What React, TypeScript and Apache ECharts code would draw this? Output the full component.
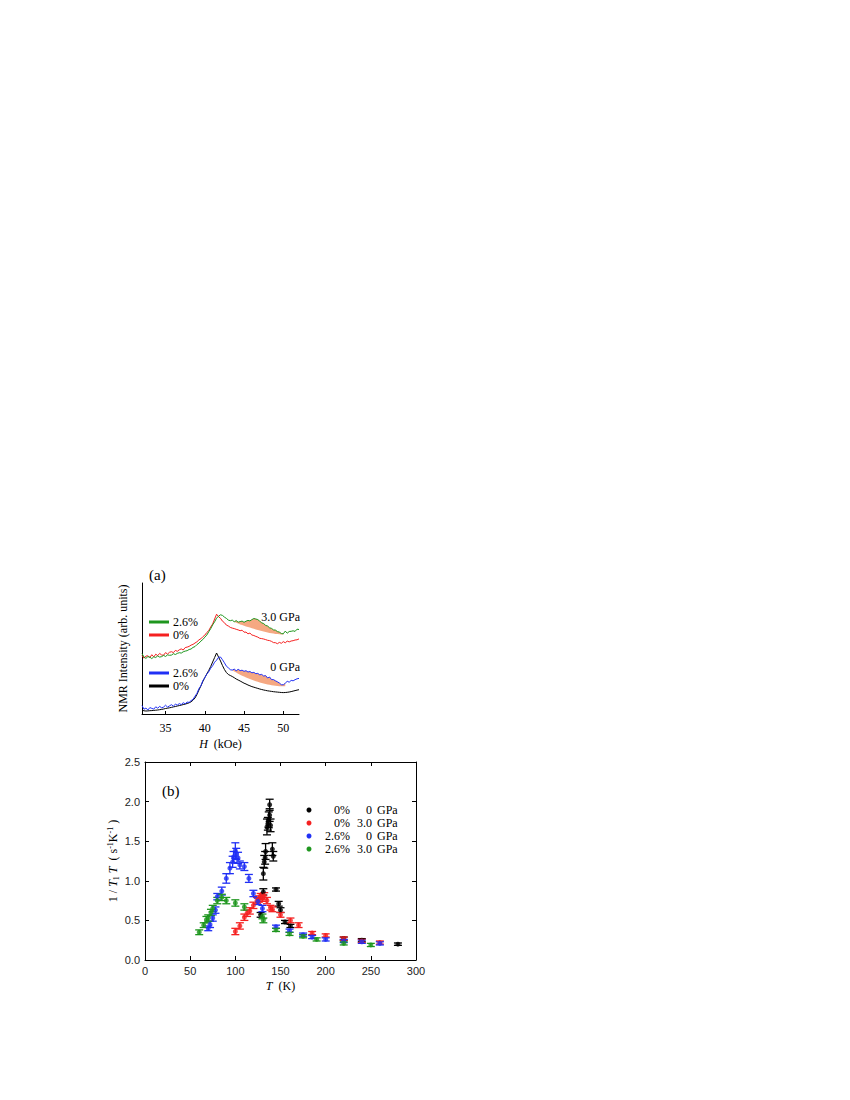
import React, { useEffect, useRef } from "react";
import * as echarts from "echarts";

// ---------- Panel (a): NMR spectra ----------
const H = [
  32, 32.25, 32.5, 32.75, 33, 33.25, 33.5, 33.75, 34, 34.25, 34.5, 34.75,
  35, 35.25, 35.5, 35.75, 36, 36.25, 36.5, 36.75, 37, 37.25, 37.5, 37.75,
  38, 38.25, 38.5, 38.75, 39, 39.25, 39.5, 39.75, 40, 40.25, 40.5, 40.75,
  41, 41.25, 41.5, 41.75, 42, 42.25, 42.5, 42.75, 43, 43.25, 43.5, 43.75,
  44, 44.25, 44.5, 44.75, 45, 45.25, 45.5, 45.75, 46, 46.25, 46.5, 46.75,
  47, 47.25, 47.5, 47.75, 48, 48.25, 48.5, 48.75, 49, 49.25, 49.5, 49.75,
  50, 50.25, 50.5, 50.75, 51, 51.25, 51.5, 51.75, 52,
];

const black0GPa = [
  4.0, 3.2, 3.0, 3.1, 3.3, 3.4, 3.6, 3.8, 4.0, 4.3, 4.6, 5.0,
  5.5, 5.8, 6.2, 6.6, 7.1, 7.5, 8.0, 8.4, 8.9, 9.4, 9.9, 10.5,
  11.2, 12.2, 13.8, 16.0, 19.5, 24.0, 28.0, 32.5, 36.5, 40.0, 43.5, 47.5,
  52.0, 56.5, 61.0, 57.0, 53.0, 48.5, 44.5, 41.5, 39.5, 38.5, 37.5, 36.3,
  35.0, 34.0, 33.0, 31.9, 30.8, 30.0, 29.0, 28.2, 27.4, 26.8, 26.2, 25.6,
  25.0, 24.5, 24.0, 23.6, 23.2, 22.9, 22.6, 22.3, 22.1, 21.9, 21.7, 21.5,
  21.4, 21.5, 21.7, 22.0, 22.4, 22.9, 23.4, 23.9, 24.3,
];

const blue0GPa = [
  8.5, 4.8, 5.9, 4.0, 6.4, 5.6, 4.9, 7.2, 5.8, 7.6, 6.2, 6.9,
  8.8, 6.9, 8.1, 9.3, 7.9, 9.8, 8.9, 10.4, 9.4, 11.3, 10.2, 11.9,
  11.6, 13.4, 14.6, 17.8, 20.6, 25.3, 28.2, 33.3, 36.2, 39.8, 42.3, 45.7,
  48.3, 51.8, 53.8, 56.7, 57.0, 54.3, 51.2, 47.8, 46.2, 44.3, 43.9, 44.9,
  43.2, 44.7, 43.4, 43.8, 42.7, 43.3, 42.0, 42.5, 41.2, 41.6, 40.3, 40.6,
  39.2, 39.6, 38.0, 38.4, 36.0, 37.0, 34.4, 34.4, 33.2, 32.2, 31.0, 29.3,
  29.2, 30.8, 32.7, 31.8, 33.6, 33.2, 34.3, 35.2, 35.6,
];

const red3GPa = [
  58.5, 55.8, 57.9, 58.2, 56.4, 59.3, 57.1, 59.8, 58.4, 60.6, 59.0, 58.8,
  61.4, 59.9, 61.7, 62.3, 61.4, 63.6, 62.7, 64.2, 65.1, 64.0, 66.4, 66.9,
  67.6, 68.9, 69.6, 71.0, 72.2, 74.1, 75.2, 77.3, 78.8, 81.5, 83.4, 87.0,
  90.0, 95.0, 99.8, 97.3, 95.7, 92.8, 91.3, 88.9, 88.0, 86.6, 85.9, 85.4,
  84.7, 84.1, 83.3, 83.8, 81.8, 81.9, 80.2, 80.9, 79.0, 78.5, 77.6, 76.9,
  75.7, 75.4, 75.0, 74.4, 73.7, 73.4, 72.6, 71.4, 71.3, 70.3, 71.6, 70.7,
  72.4, 71.2, 72.9, 72.1, 73.0, 73.3, 74.0, 74.2, 75.1,
];

const green3GPa = [
  60.5, 57.0, 55.6, 57.4, 56.8, 55.4, 57.2, 56.5, 58.1, 56.9, 57.4, 58.6,
  57.5, 59.1, 58.7, 58.9, 60.3, 59.5, 60.6, 61.3, 60.9, 62.2, 62.9, 63.3,
  64.5, 65.0, 66.6, 67.4, 69.4, 70.8, 72.9, 74.5, 76.8, 78.9, 82.2, 85.3,
  89.1, 92.2, 95.8, 97.8, 99.2, 98.6, 96.9, 95.6, 93.9, 93.3, 93.9, 92.2,
  93.4, 91.8, 92.4, 92.9, 91.7, 92.8, 93.6, 93.1, 94.4, 95.5, 95.0, 94.4,
  92.8, 91.2, 90.4, 88.6, 88.0, 86.2, 85.6, 84.1, 83.9, 82.4, 81.9, 80.5,
  80.2, 82.9, 80.8, 82.5, 82.7, 83.2, 82.6, 84.8, 84.5,
];

// Shaded regions (lower smooth boundary; upper = 2.6% spectrum)
const fill3H = [43.75, 44, 44.25, 44.5, 44.75, 45, 45.25, 45.5, 45.75, 46, 46.25, 46.5, 46.75,
  47, 47.25, 47.5, 47.75, 48, 48.25, 48.5, 48.75, 49, 49.25, 49.5, 49.75, 50];
const fill3Lower = [92.2, 91.2, 90.4, 89.6, 88.9, 88.2, 87.6, 87.0, 86.4, 85.8, 85.2, 84.6, 84.0,
  83.4, 82.9, 82.4, 81.9, 81.5, 81.1, 80.7, 80.4, 80.1, 79.9, 79.7, 79.6, 79.6];
const fill0H = [43.5, 43.75, 44, 44.25, 44.5, 44.75, 45, 45.25, 45.5, 45.75, 46, 46.25, 46.5, 46.75,
  47, 47.25, 47.5, 47.75, 48, 48.25, 48.5, 48.75, 49, 49.25, 49.5, 49.75, 50, 50.25];
const fill0Lower = [43.8, 42.6, 41.4, 40.3, 39.3, 38.3, 37.4, 36.5, 35.7, 34.9, 34.2, 33.5, 32.8, 32.2,
  31.6, 31.0, 30.5, 30.0, 29.6, 29.2, 28.8, 28.5, 28.2, 28.0, 27.8, 27.7, 27.7, 27.8];

const aTicks = [35, 40, 45, 50];

// ---------- Panel (b): 1/T1T vs T ----------
const blkT = [128, 131, 131, 132, 133, 133.5, 135, 136, 137, 138, 138, 139, 141, 142, 145, 148, 150, 155, 161, 220, 240, 280];
const blkV = [0.57, 0.86, 1.09, 1.24, 1.29, 1.37, 1.68, 1.72, 1.77, 1.83, 1.96, 1.70, 1.40, 1.31, 0.89, 0.71, 0.63, 0.48, 0.43, 0.27, 0.25, 0.20];
const blkE = [0.03, 0.04, 0.08, 0.08, 0.08, 0.1, 0.1, 0.08, 0.1, 0.08, 0.07, 0.08, 0.08, 0.06, 0.02, 0.03, 0.03, 0.02, 0.02, 0.02, 0.02, 0.015];

const redT = [100, 105, 110, 113, 116, 120, 124, 126, 128, 130, 132, 135, 139, 141, 150, 161, 170, 185, 200, 220, 240, 260];
const redV = [0.36, 0.43, 0.54, 0.59, 0.62, 0.69, 0.75, 0.77, 0.80, 0.78, 0.81, 0.75, 0.66, 0.64, 0.57, 0.50, 0.44, 0.34, 0.31, 0.27, 0.24, 0.22];
const redE = [0.04, 0.04, 0.04, 0.04, 0.04, 0.04, 0.04, 0.04, 0.04, 0.04, 0.04, 0.04, 0.03, 0.03, 0.03, 0.03, 0.03, 0.02, 0.02, 0.02, 0.02, 0.02];

const bluT = [70, 72, 75, 78, 80, 85, 90, 94, 97, 98, 100, 101, 103, 105, 110, 115, 120, 125, 130, 145, 160, 175, 185, 200, 220, 240, 260];
const bluV = [0.40, 0.45, 0.53, 0.63, 0.80, 0.87, 1.03, 1.16, 1.24, 1.30, 1.38, 1.34, 1.29, 1.20, 1.18, 1.03, 0.84, 0.74, 0.65, 0.42, 0.37, 0.32, 0.29, 0.26, 0.24, 0.23, 0.21];
const bluE = [0.03, 0.04, 0.04, 0.04, 0.04, 0.05, 0.06, 0.07, 0.07, 0.07, 0.1, 0.07, 0.07, 0.05, 0.05, 0.05, 0.04, 0.04, 0.04, 0.02, 0.02, 0.02, 0.02, 0.02, 0.02, 0.02, 0.02];

const grnT = [60, 65, 68, 70, 73, 75, 80, 85, 90, 100, 110, 130, 131, 145, 160, 175, 190, 220, 250];
const grnV = [0.35, 0.44, 0.51, 0.53, 0.60, 0.65, 0.75, 0.79, 0.75, 0.72, 0.67, 0.55, 0.50, 0.38, 0.33, 0.30, 0.26, 0.21, 0.19];
const grnE = [0.03, 0.03, 0.04, 0.04, 0.04, 0.04, 0.04, 0.04, 0.04, 0.04, 0.04, 0.03, 0.03, 0.02, 0.02, 0.02, 0.02, 0.02, 0.02];

const legendB = [
  { pct: "0%", p: "0", color: "#000000" },
  { pct: "0%", p: "3.0", color: "#f52020" },
  { pct: "2.6%", p: "0", color: "#2030f5" },
  { pct: "2.6%", p: "3.0", color: "#1e961e" },
];

const SERIF = "Liberation Serif, Times New Roman, serif";
const SANS = "Liberation Sans, Arial, sans-serif";

const C_BLACK = "#000000";
const C_RED = "#f52020";
const C_BLUE = "#2030f5";
const C_GREEN = "#1e961e";
const C_FILL = "#f5a882";

function errSeries(name: string, T: number[], V: number[], E: number[], color: string) {
  return [
    {
      name: name + "-err",
      type: "custom",
      xAxisIndex: 1,
      yAxisIndex: 1,
      data: T.map((t, i) => [t, V[i], E[i]]),
      encode: { x: 0, y: 1 },
      silent: true,
      renderItem: (params: any, api: any) => {
        const x = api.value(0);
        const y = api.value(1);
        const e = api.value(2);
        const top = api.coord([x, y + e]);
        const bot = api.coord([x, y - e]);
        const hw = 4;
        const st = { stroke: color, lineWidth: 1.3 };
        return {
          type: "group",
          children: [
            { type: "line", shape: { x1: top[0], y1: top[1], x2: bot[0], y2: bot[1] }, style: st },
            { type: "line", shape: { x1: top[0] - hw, y1: top[1], x2: top[0] + hw, y2: top[1] }, style: st },
            { type: "line", shape: { x1: bot[0] - hw, y1: bot[1], x2: bot[0] + hw, y2: bot[1] }, style: st },
          ],
        };
      },
    },
    {
      name,
      type: "scatter",
      xAxisIndex: 1,
      yAxisIndex: 1,
      symbol: "circle",
      symbolSize: 5,
      itemStyle: { color },
      data: T.map((t, i) => [t, V[i]]),
    },
  ];
}

function specLine(name: string, vals: number[], color: string) {
  return {
    name,
    type: "line",
    xAxisIndex: 0,
    yAxisIndex: 0,
    showSymbol: false,
    symbol: "none",
    z: 3,
    lineStyle: { color, width: 1 },
    data: H.map((h, i) => [h, vals[i]]),
  };
}

function fillSeries(id: string, hs: number[], lower: number[], upper: number[]) {
  return {
    name: id,
    type: "custom",
    xAxisIndex: 0,
    yAxisIndex: 0,
    z: 1,
    silent: true,
    data: hs.map((h, i) => [h, lower[i], upper[H.indexOf(h)]]),
    encode: { x: 0, y: [1, 2] },
    renderItem: (params: any, api: any) => {
      if (params.dataIndex !== 0) return null;
      const pts: number[][] = [];
      hs.forEach((h) => pts.push(api.coord([h, upper[H.indexOf(h)]])));
      for (let i = hs.length - 1; i >= 0; i--) pts.push(api.coord([hs[i], lower[i]]));
      return { type: "polygon", shape: { points: pts }, style: { fill: C_FILL } };
    },
  };
}

export default function App() {
  const ref = useRef<HTMLDivElement>(null);
  useEffect(() => {
    if (!ref.current) return;
    const chart = echarts.init(ref.current, null, { renderer: "svg" });

    const txt = (x: number, y: number, text: string, opts: any = {}) => ({
      type: "text",
      x,
      y,
      style: {
        text,
        fill: "#000",
        font: `${opts.size || 12}px ${opts.family || SERIF}`,
        textAlign: opts.align || "left",
        textVerticalAlign: "middle",
      },
    });
    const legLine = (y: number, color: string) => ({
      type: "line",
      shape: { x1: 149, y1: y, x2: 169, y2: y },
      style: { stroke: color, lineWidth: 3 },
    });

    const graphics: any[] = [
      txt(149, 575, "(a)", { size: 15 }),
      legLine(622, C_GREEN),
      txt(173, 622, "2.6%"),
      legLine(635, C_RED),
      txt(173, 635, "0%"),
      legLine(673, C_BLUE),
      txt(173, 673, "2.6%"),
      legLine(686, C_BLACK),
      txt(173, 686, "0%"),
      txt(300, 617, "3.0 GPa", { align: "right" }),
      txt(300, 667, "0 GPa", { align: "right" }),
      txt(162, 791, "(b)", { size: 15 }),
    ];
    legendB.forEach((l, i) => {
      const y = 810 + i * 13;
      graphics.push({ type: "circle", shape: { cx: 309, cy: y, r: 2.5 }, style: { fill: l.color } });
      graphics.push(txt(350, y, l.pct, { align: "right" }));
      graphics.push(txt(372, y, l.p, { align: "right" }));
      graphics.push(txt(377, y, "GPa"));
    });

    const option: any = {
      animation: false,
      backgroundColor: "#ffffff",
      grid: [
        { left: 142, top: 583, width: 157, height: 131 },
        { left: 145, top: 762, width: 271, height: 198 },
      ],
      xAxis: [
        {
          gridIndex: 0,
          type: "value",
          min: 32,
          max: 52,
          name: "{i|H}  (kOe)",
          nameLocation: "middle",
          nameGap: 24,
          nameTextStyle: {
            color: "#000",
            fontFamily: SERIF,
            fontSize: 12,
            rich: {
              i: { fontFamily: SERIF, fontSize: 12, fontStyle: "italic", color: "#000" },
            },
          },
          axisLine: { show: true, onZero: false, lineStyle: { color: "#000", width: 1 } },
          axisTick: { show: true, inside: true, length: 3, customValues: aTicks, lineStyle: { color: "#000" } },
          axisLabel: { show: true, customValues: aTicks, color: "#000", fontFamily: SERIF, fontSize: 12, margin: 8 },
          splitLine: { show: false },
        },
        {
          gridIndex: 1,
          type: "value",
          min: 0,
          max: 300,
          interval: 50,
          name: "{i|T}  (K)",
          nameLocation: "middle",
          nameGap: 20,
          nameTextStyle: {
            color: "#000",
            fontFamily: SERIF,
            fontSize: 12,
            rich: {
              i: { fontFamily: SERIF, fontSize: 12, fontStyle: "italic", color: "#000" },
            },
          },
          axisLine: { show: true, onZero: false, lineStyle: { color: "#000", width: 1 } },
          axisTick: { show: true, inside: true, length: 4, lineStyle: { color: "#000" } },
          axisLabel: { color: "#222", fontFamily: SANS, fontSize: 11, margin: 5 },
          splitLine: { show: false },
        },
        {
          gridIndex: 1,
          type: "value",
          position: "top",
          min: 0,
          max: 300,
          interval: 50,
          axisLine: { show: true, onZero: false, lineStyle: { color: "#000", width: 1 } },
          axisTick: { show: true, inside: true, length: 4, lineStyle: { color: "#000" } },
          axisLabel: { show: false },
          splitLine: { show: false },
        },
      ],
      yAxis: [
        {
          gridIndex: 0,
          type: "value",
          min: 0,
          max: 131,
          name: "NMR Intensity (arb. units)",
          nameLocation: "middle",
          nameRotate: 90,
          nameGap: 13,
          nameTextStyle: { color: "#000", fontFamily: SERIF, fontSize: 12 },
          axisLine: { show: true, onZero: false, lineStyle: { color: "#000", width: 1 } },
          axisTick: { show: false },
          axisLabel: { show: false },
          splitLine: { show: false },
        },
        {
          gridIndex: 1,
          type: "value",
          min: 0,
          max: 2.5,
          interval: 0.5,
          name: "1 / {i|T}{sub|1} {i|T}  ( s{sup|-1}K{sup|-1} )",
          nameLocation: "middle",
          nameRotate: 90,
          nameGap: 25,
          nameTextStyle: {
            color: "#000",
            fontFamily: SERIF,
            fontSize: 12,
            lineHeight: 14,
            rich: {
              i: { fontFamily: SERIF, fontSize: 12, fontStyle: "italic", color: "#000", lineHeight: 14 },
              sub: { fontFamily: SERIF, fontSize: 8, color: "#000", verticalAlign: "bottom", lineHeight: 14 },
              sup: { fontFamily: SERIF, fontSize: 8, color: "#000", verticalAlign: "top", lineHeight: 14 },
            },
          },
          axisLine: { show: true, onZero: false, lineStyle: { color: "#000", width: 1 } },
          axisTick: { show: true, inside: true, length: 4, lineStyle: { color: "#000" } },
          axisLabel: {
            color: "#222",
            fontFamily: SANS,
            fontSize: 11,
            margin: 5,
            formatter: (v: number) => v.toFixed(1),
          },
          splitLine: { show: false },
        },
        {
          gridIndex: 1,
          type: "value",
          position: "right",
          min: 0,
          max: 2.5,
          interval: 0.5,
          axisLine: { show: true, onZero: false, lineStyle: { color: "#000", width: 1 } },
          axisTick: { show: true, inside: true, length: 4, lineStyle: { color: "#000" } },
          axisLabel: { show: false },
          splitLine: { show: false },
        },
      ],
      series: [
        fillSeries("fill 3.0 GPa", fill3H, fill3Lower, green3GPa),
        fillSeries("fill 0 GPa", fill0H, fill0Lower, blue0GPa),
        specLine("0% 3.0 GPa", red3GPa, C_RED),
        specLine("2.6% 3.0 GPa", green3GPa, C_GREEN),
        specLine("0% 0 GPa", black0GPa, C_BLACK),
        specLine("2.6% 0 GPa", blue0GPa, C_BLUE),
        ...errSeries("0% 0 GPa", blkT, blkV, blkE, C_BLACK),
        ...errSeries("0% 3.0 GPa", redT, redV, redE, C_RED),
        ...errSeries("2.6% 0 GPa", bluT, bluV, bluE, C_BLUE),
        ...errSeries("2.6% 3.0 GPa", grnT, grnV, grnE, C_GREEN),
      ],
      graphic: graphics,
    };
    chart.setOption(option);
    return () => chart.dispose();
  }, []);

  return (
    <div
      ref={ref}
      style={{ position: "absolute", left: 0, top: 0, width: 850, height: 1100, background: "#fff" }}
    />
  );
}
